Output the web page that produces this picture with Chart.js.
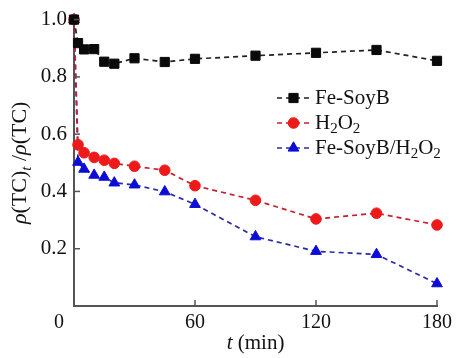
<!DOCTYPE html>
<html>
<head>
<meta charset="utf-8">
<script src="https://cdn.jsdelivr.net/npm/chart.js@4/dist/chart.umd.min.js"></script>
<style>
  html, body { margin: 0; padding: 0; background: #fff; }
  #wrap { width: 457px; height: 358px; }
</style>
</head>
<body>
<div id="wrap"><canvas id="chart" width="457" height="358"></canvas></div>
<script>
// data
const times = [0, 2, 5, 10, 15, 20, 30, 45, 60, 90, 120, 150, 180];
const feSoyB = [1.0, 0.918, 0.896, 0.897, 0.853, 0.846, 0.865, 0.852, 0.863, 0.874, 0.884, 0.894, 0.856];
const h2o2 = [1.0, 0.563, 0.535, 0.519, 0.509, 0.498, 0.488, 0.474, 0.42, 0.369, 0.304, 0.324, 0.283];
const feSoyBH2o2 = [1.0, 0.502, 0.478, 0.457, 0.45, 0.43, 0.423, 0.399, 0.355, 0.242, 0.191, 0.18, 0.078];
const xTicks = [0, 60, 120, 180];
const yTicks = [0.2, 0.4, 0.6, 0.8, 1.0];

const FONT = '"Liberation Serif", "Times New Roman", serif';
const SUBS = { '₂': '2', 'ₜ': 't' };

// split a label like "H₂O₂" into normal/subscript runs
const toRuns = (text) => {
  const runs = [];
  for (const ch of text) {
    const sub = ch in SUBS;
    const last = runs[runs.length - 1];
    if (last && last.sub === sub && !last.italic) last.text += sub ? SUBS[ch] : ch;
    else runs.push({ text: sub ? SUBS[ch] : ch, sub });
  }
  return runs;
};

const runFont = (r, size) => `${r.italic ? 'italic ' : ''}${r.sub ? Math.round(size * 0.7) : size}px ${FONT}`;

const runsWidth = (ctx, runs, size) => runs.reduce((w, r) => {
  ctx.font = runFont(r, size);
  return w + ctx.measureText(r.text).width;
}, 0);

const drawRuns = (ctx, runs, x, y, size) => {
  ctx.textAlign = 'left';
  ctx.textBaseline = 'middle';
  runs.forEach(r => {
    ctx.font = runFont(r, size);
    ctx.fillText(r.text, x, y + (r.sub ? size * 0.3 : 0));
    x += ctx.measureText(r.text).width;
  });
};

const makeSeries = (label, values, color, lineColor, style, radius) => ({
  label,
  data: times.map((t, i) => ({ x: t, y: values[i] })),
  borderColor: lineColor,
  borderWidth: 1.7,
  borderDash: [5, 4],
  pointStyle: style,
  pointRadius: radius,
  pointBackgroundColor: color,
  pointBorderColor: color,
  pointBorderWidth: 1,
  clip: false
});

// tick marks drawn inside the plot, axis titles and legend
const decorations = {
  id: 'decorations',
  afterDraw(chart) {
    const { ctx, chartArea: a, scales: { x, y } } = chart;
    ctx.save();
    ctx.strokeStyle = '#555';
    ctx.lineWidth = 1.5;
    xTicks.forEach(v => {
      if (v === 0) return;
      const px = x.getPixelForValue(v);
      ctx.beginPath();
      ctx.moveTo(px, a.bottom);
      ctx.lineTo(px, a.bottom - 6);
      ctx.stroke();
    });
    yTicks.forEach(v => {
      const py = y.getPixelForValue(v);
      ctx.beginPath();
      ctx.moveTo(a.left, py);
      ctx.lineTo(a.left + 6, py);
      ctx.stroke();
    });

    ctx.fillStyle = '#111';
    // x title
    const xRuns = [{ text: 't', italic: true }, { text: ' (min)' }];
    const xw = runsWidth(ctx, xRuns, 21);
    drawRuns(ctx, xRuns, (a.left + a.right) / 2 - xw / 2, 343, 21);

    // y title
    const yRuns = [
      { text: 'ρ', italic: true }, { text: '(TC)' }, { text: 't', italic: true, sub: true },
      { text: ' /' }, { text: 'ρ', italic: true }, { text: '(TC)' }
    ];
    const yw = runsWidth(ctx, yRuns, 22);
    ctx.save();
    ctx.translate(20, (a.top + a.bottom) / 2);
    ctx.rotate(-Math.PI / 2);
    drawRuns(ctx, yRuns, -yw / 2, 0, 22);
    ctx.restore();

    // legend
    chart.data.datasets.forEach((ds, i) => {
      const ly = 98 + i * 25;
      ctx.save();
      ctx.strokeStyle = ds.borderColor;
      ctx.lineWidth = 1.7;
      ctx.setLineDash([5, 4]);
      ctx.beginPath();
      ctx.moveTo(277, ly);
      ctx.lineTo(310, ly);
      ctx.stroke();
      ctx.restore();
      ctx.fillStyle = ds.pointBackgroundColor;
      ctx.strokeStyle = ds.pointBorderColor;
      ctx.lineWidth = 1;
      Chart.helpers.drawPoint(ctx, { pointStyle: ds.pointStyle, radius: ds.pointRadius, borderWidth: 1 }, 293.5, ly);
      ctx.fillStyle = '#111';
      drawRuns(ctx, toRuns(ds.label), 315, ly, 21);
    });
    ctx.restore();
  }
};

new Chart(document.getElementById('chart'), {
  type: 'line',
  data: {
    datasets: [
      makeSeries('Fe-SoyB', feSoyB, '#0a0a0a', '#222', 'rect', 6.5),
      makeSeries('H₂O₂', h2o2, '#ee1a1a', '#c42030', 'circle', 5.3),
      makeSeries('Fe-SoyB/H₂O₂', feSoyBH2o2, '#0c0cd6', '#2a2aa6', 'triangle', 6.2)
    ]
  },
  options: {
    responsive: false,
    animation: false,
    devicePixelRatio: 1,
    layout: { padding: { top: 13, right: 19, left: 0, bottom: 0 } },
    plugins: { legend: { display: false }, tooltip: { enabled: false } },
    scales: {
      x: {
        type: 'linear',
        min: 0,
        max: 180,
        afterBuildTicks: (s) => { s.ticks = xTicks.map(v => ({ value: v })); },
        afterFit: (s) => { s.height = 52; },
        grid: { display: false, drawTicks: false },
        border: { color: '#555', width: 2 },
        ticks: {
          padding: 5,
          color: '#111',
          font: { family: FONT, size: 20 },
          maxRotation: 0,
          // the "0" sits left of the axis in the original
          callback: (v) => (v === 0 ? '0\u2003\u2002' : String(v))
        }
      },
      y: {
        type: 'linear',
        min: 0,
        max: 1,
        afterBuildTicks: (s) => { s.ticks = yTicks.map(v => ({ value: v })); },
        afterFit: (s) => { s.width = 74; },
        grid: { display: false, drawTicks: false },
        border: { color: '#555', width: 2 },
        ticks: {
          padding: 7,
          color: '#111',
          font: { family: FONT, size: 21 },
          callback: (v) => v.toFixed(1)
        }
      }
    }
  },
  plugins: [decorations]
});
</script>
</body>
</html>
